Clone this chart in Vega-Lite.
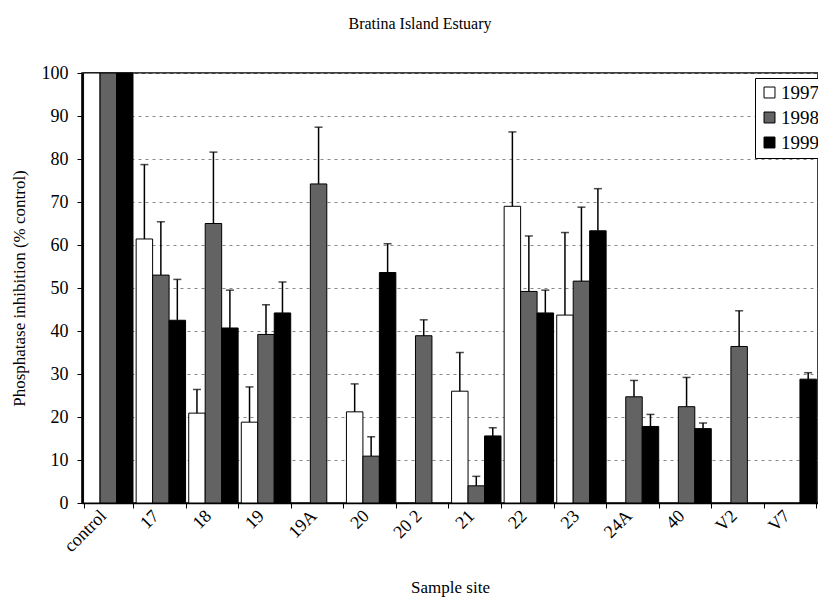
{
  "$schema": "https://vega.github.io/schema/vega-lite/v6.json",
  "autosize": {"type": "none"},
  "padding": {"left": 82, "top": 73, "right": 0, "bottom": 98},
  "width": 736,
  "height": 430,
  "background": "white",
  "title": {"text": "Bratina Island Estuary", "font": "Liberation Serif", "fontSize": 16, "fontWeight": "normal", "color": "black", "anchor": "middle", "dx": -30, "offset": 32},
  "config": {
    "view": {"stroke": "black", "strokeWidth": 1.5},
    "axis": {"labelFont": "Liberation Serif", "titleFont": "Liberation Serif", "labelColor": "black", "titleColor": "black", "titleFontWeight": "normal", "domainColor": "black", "tickColor": "black"}
  },
  "data": {"values": [
    {"site": "control", "year": "1997", "value": 100, "upper": null},
    {"site": "control", "year": "1998", "value": 100, "upper": null},
    {"site": "control", "year": "1999", "value": 100, "upper": null},
    {"site": "17", "year": "1997", "value": 61.4, "upper": 78.7},
    {"site": "17", "year": "1998", "value": 53.0, "upper": 65.4},
    {"site": "17", "year": "1999", "value": 42.5, "upper": 52.0},
    {"site": "18", "year": "1997", "value": 20.9, "upper": 26.4},
    {"site": "18", "year": "1998", "value": 65.0, "upper": 81.6},
    {"site": "18", "year": "1999", "value": 40.7, "upper": 49.5},
    {"site": "19", "year": "1997", "value": 18.8, "upper": 27.0},
    {"site": "19", "year": "1998", "value": 39.2, "upper": 46.1},
    {"site": "19", "year": "1999", "value": 44.2, "upper": 51.4},
    {"site": "19A", "year": "1998", "value": 74.2, "upper": 87.4},
    {"site": "20", "year": "1997", "value": 21.2, "upper": 27.7},
    {"site": "20", "year": "1998", "value": 10.9, "upper": 15.4},
    {"site": "20", "year": "1999", "value": 53.6, "upper": 60.3},
    {"site": "20 2", "year": "1998", "value": 38.9, "upper": 42.6},
    {"site": "21", "year": "1997", "value": 26.0, "upper": 35.0},
    {"site": "21", "year": "1998", "value": 4.0, "upper": 6.2},
    {"site": "21", "year": "1999", "value": 15.6, "upper": 17.5},
    {"site": "22", "year": "1997", "value": 69.0, "upper": 86.3},
    {"site": "22", "year": "1998", "value": 49.2, "upper": 62.1},
    {"site": "22", "year": "1999", "value": 44.2, "upper": 49.5},
    {"site": "23", "year": "1997", "value": 43.7, "upper": 62.9},
    {"site": "23", "year": "1998", "value": 51.6, "upper": 68.8},
    {"site": "23", "year": "1999", "value": 63.3, "upper": 73.1},
    {"site": "24A", "year": "1998", "value": 24.7, "upper": 28.5},
    {"site": "24A", "year": "1999", "value": 17.8, "upper": 20.6},
    {"site": "40", "year": "1998", "value": 22.4, "upper": 29.2},
    {"site": "40", "year": "1999", "value": 17.3, "upper": 18.6},
    {"site": "V2", "year": "1998", "value": 36.4, "upper": 44.7},
    {"site": "V7", "year": "1999", "value": 28.8, "upper": 30.3}
  ]},
  "encoding": {
    "x": {
      "field": "site", "type": "nominal", "sort": ["control", "17", "18", "19", "19A", "20", "20 2", "21", "22", "23", "24A", "40", "V2", "V7"],
      "scale": {"paddingInner": 0.06, "paddingOuter": 0.03},
      "axis": {"title": "Sample site", "titleFontSize": 17, "titlePadding": 24, "labelFontSize": 18, "labelAngle": -45, "labelAlign": "right", "labelBaseline": "middle", "labelPadding": 5, "labelOffset": -5, "tickBand": "extent", "tickSize": 5, "domainWidth": 1.5}
    },
    "xOffset": {"field": "year", "type": "nominal", "scale": {"paddingInner": 0, "paddingOuter": 0}}
  },
  "layer": [
    {
      "mark": {"type": "bar", "stroke": "black", "strokeWidth": 1},
      "encoding": {
        "y": {"field": "value", "type": "quantitative", "scale": {"domain": [0, 100], "nice": false},
          "axis": {"title": "Phosphatase inhibition (% control)", "titleFontSize": 17, "titleX": -58, "titleY": 215, "titleAlign": "center", "titleBaseline": "alphabetic", "titleAngle": -90, "labelFontSize": 18, "values": [0, 10, 20, 30, 40, 50, 60, 70, 80, 90, 100], "labelOverlap": false, "tickSize": 5, "labelPadding": 9, "domainWidth": 1.5, "grid": true, "gridColor": "#888888", "gridDash": [3, 4], "gridWidth": 1}},
        "fill": {"field": "year", "type": "nominal", "scale": {"domain": ["1997", "1998", "1999"], "range": ["#ffffff", "#636363", "#000000"]},
          "legend": {"title": null, "orient": "none", "legendX": 673, "legendY": 5, "symbolType": "square", "symbolSize": 120, "symbolStrokeColor": "black", "symbolStrokeWidth": 1, "labelFont": "Liberation Serif", "labelFontSize": 19, "labelColor": "black", "rowPadding": 5, "padding": 5, "strokeColor": "black", "fillColor": "white", "labelOffset": 2}}
      }
    },
    {
      "mark": {"type": "rule", "color": "black", "strokeWidth": 1.5},
      "encoding": {"y": {"field": "value", "type": "quantitative"}, "y2": {"field": "upper"}}
    },
    {
      "mark": {"type": "tick", "color": "black", "thickness": 1.5, "size": 8},
      "encoding": {"y": {"field": "upper", "type": "quantitative"}}
    }
  ]
}
